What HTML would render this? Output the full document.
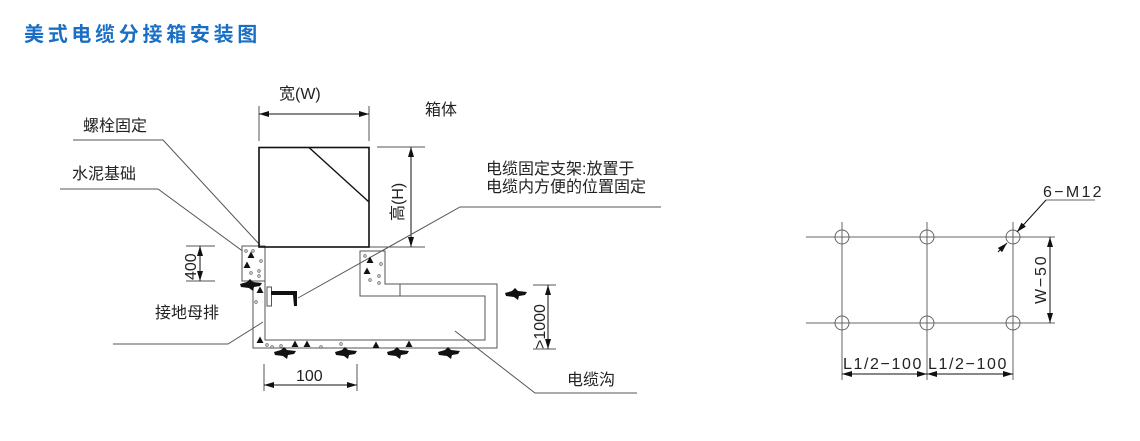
<!DOCTYPE html>
<html><head><meta charset="utf-8"><style>
html,body{margin:0;padding:0;background:#fff;width:1140px;height:441px;overflow:hidden}
svg{display:block}
text{font-family:"Liberation Sans","Noto Sans CJK SC",sans-serif;fill:#222}
</style></head><body>
<svg width="1140" height="441" viewBox="0 0 1140 441" xmlns="http://www.w3.org/2000/svg">
<defs>
<marker id="a" viewBox="0 0 10 6" refX="10" refY="3" markerWidth="10" markerHeight="6" orient="auto-start-reverse" markerUnits="userSpaceOnUse"><path d="M0,0 L10,3 L0,6 z" fill="#111"/></marker>
<g id="gr"><path d="M-11,-1 L-4,-3 L-1,-6 L2,-3 L11,-2 L9,1 L3,2 L2,6 L-2,3 L-10,2z" fill="#111"/></g>
<g id="tri"><path d="M0,-3.5 L3.5,3 L-3.5,3z" fill="#111"/></g>
</defs>
<text x="24" y="41" style="font-size:20px;font-weight:bold;fill:#1a6fc4;letter-spacing:3.7px">美式电缆分接箱安装图</text>

<g stroke="#555" stroke-width="1" fill="none">
<line x1="259" y1="106" x2="259" y2="141"/><line x1="369" y1="106" x2="369" y2="141"/>
<line x1="259" y1="114" x2="369" y2="114" stroke="#111" marker-start="url(#a)" marker-end="url(#a)"/>
<line x1="377" y1="147" x2="425" y2="147"/><line x1="320" y1="247" x2="425" y2="247"/>
<line x1="411" y1="147" x2="411" y2="247" stroke="#111" marker-start="url(#a)" marker-end="url(#a)"/>
<line x1="186" y1="246" x2="215" y2="246"/><line x1="186" y1="281" x2="215" y2="281"/>
<line x1="200" y1="246" x2="200" y2="281" stroke="#111" marker-start="url(#a)" marker-end="url(#a)"/>
<line x1="264" y1="364" x2="264" y2="391"/><line x1="357" y1="364" x2="357" y2="391"/>
<line x1="264" y1="385" x2="357" y2="385" stroke="#111" marker-start="url(#a)" marker-end="url(#a)"/>
<line x1="533" y1="285" x2="556" y2="285"/><line x1="533" y1="349" x2="556" y2="349"/>
<line x1="548" y1="285" x2="548" y2="349" stroke="#111" marker-start="url(#a)" marker-end="url(#a)"/>
<polyline points="73,140 163,140 260,245"/>
<polyline points="60,189 158,189 248,255"/>
<polyline points="113,344 228,344 263,322"/>
<polyline points="298,298 460,207 661,207"/>
<polyline points="455,331 535,393 637,393"/>
<rect x="242" y="246" width="23" height="35" fill="#fff"/>
<polyline points="253,281 253,348 497,348 497,284 385,284 385,251 360,251 360,296 400,296 400,284"/>
<polyline points="400,296 485,296 485,340 265,340 265,281"/>
<rect x="267" y="287" width="4.5" height="19" fill="#fff"/>
</g>
<rect x="259" y="147.5" width="110" height="99.5" fill="none" stroke="#111" stroke-width="1.6"/>
<line x1="309" y1="147.5" x2="369" y2="202" stroke="#111" stroke-width="1.4"/>
<path d="M271,291 L297,291 L297,306 L294,306 L293,295 L271,295z" fill="#111"/>
<g fill="none" stroke="#666" stroke-width="0.8">
<circle cx="246" cy="251" r="1.3"/><circle cx="253" cy="251" r="1.3"/><circle cx="261" cy="261" r="1.3"/><circle cx="251" cy="273" r="1.3"/><circle cx="259" cy="271" r="1.3"/><circle cx="259" cy="276" r="1.3"/>
<circle cx="256" cy="302" r="1.3"/><circle cx="267" cy="345" r="1.3"/><circle cx="272" cy="347" r="1.3"/><circle cx="281" cy="346" r="1.3"/><circle cx="321" cy="347" r="1.3"/><circle cx="341" cy="344" r="1.3"/>
<circle cx="365" cy="256" r="1.3"/><circle cx="381" cy="264" r="1.3"/><circle cx="379" cy="276" r="1.3"/><circle cx="370" cy="280" r="1.3"/><circle cx="379" cy="283" r="1.3"/>
</g>
<g>
<use href="#tri" x="251" y="255"/><use href="#tri" x="247" y="265"/><use href="#tri" x="260" y="290"/><use href="#tri" x="260" y="340"/>
<use href="#tri" x="295" y="344"/><use href="#tri" x="307" y="344"/><use href="#tri" x="376" y="345"/><use href="#tri" x="409" y="344"/>
<use href="#tri" x="370" y="260"/><use href="#tri" x="367" y="271"/>
<use href="#gr" x="251" y="285"/><use href="#gr" x="285" y="353"/><use href="#gr" x="346" y="353"/><use href="#gr" x="398" y="353"/><use href="#gr" x="449" y="353"/><use href="#gr" x="516" y="294"/>
</g>
<text x="279" y="99" style="font-size:16px">宽(W)</text>
<text x="425" y="115" style="font-size:16px">箱体</text>
<text x="83" y="131" style="font-size:16px">螺栓固定</text>
<text x="72" y="179" style="font-size:16px">水泥基础</text>
<text x="155" y="318" style="font-size:16px">接地母排</text>
<text x="486" y="174" style="font-size:16px">电缆固定支架:放置于</text>
<text x="486" y="192" style="font-size:16px">电缆内方便的位置固定</text>
<text x="567" y="385" style="font-size:16px">电缆沟</text>
<text x="296" y="381" style="font-size:16px">100</text>
<text transform="translate(403,221) rotate(-90)" style="font-size:16px">高(H)</text>
<text transform="translate(196,280) rotate(-90)" style="font-size:16px">400</text>
<text transform="translate(545,349) rotate(-90)" style="font-size:16px">&gt;1000</text>

<g stroke="#666" stroke-width="1" fill="none">
<line x1="806" y1="237" x2="1055" y2="237"/><line x1="806" y1="323" x2="1055" y2="323"/>
<line x1="842" y1="222" x2="842" y2="380"/><line x1="927" y1="222" x2="927" y2="380"/><line x1="1013" y1="222" x2="1013" y2="380"/>
<circle cx="842" cy="237" r="7"/><circle cx="927" cy="237" r="7"/><circle cx="1013" cy="237" r="7"/>
<circle cx="842" cy="323" r="7"/><circle cx="927" cy="323" r="7"/><circle cx="1013" cy="323" r="7"/>
<line x1="1046" y1="200" x2="1095" y2="200"/>
</g>
<line x1="1046" y1="200" x2="1017" y2="232" stroke="#111" marker-end="url(#a)"/>
<line x1="998" y1="252" x2="1007" y2="243" stroke="#111" marker-end="url(#a)"/>
<line x1="1050" y1="237" x2="1050" y2="323" stroke="#111" marker-start="url(#a)" marker-end="url(#a)"/>
<line x1="842" y1="374" x2="927" y2="374" stroke="#111" marker-start="url(#a)" marker-end="url(#a)"/>
<line x1="927" y1="374" x2="1013" y2="374" stroke="#111" marker-start="url(#a)" marker-end="url(#a)"/>
<text x="1043" y="197" style="font-size:16px;letter-spacing:2.3px">6−M12</text>
<text transform="translate(1046,304) rotate(-90)" style="font-size:16px;letter-spacing:1.8px">W−50</text>
<text x="843" y="369" style="font-size:16px;letter-spacing:1.6px">L1/2−100</text>
<text x="928" y="369" style="font-size:16px;letter-spacing:1.6px">L1/2−100</text>
</svg>
</body></html>
